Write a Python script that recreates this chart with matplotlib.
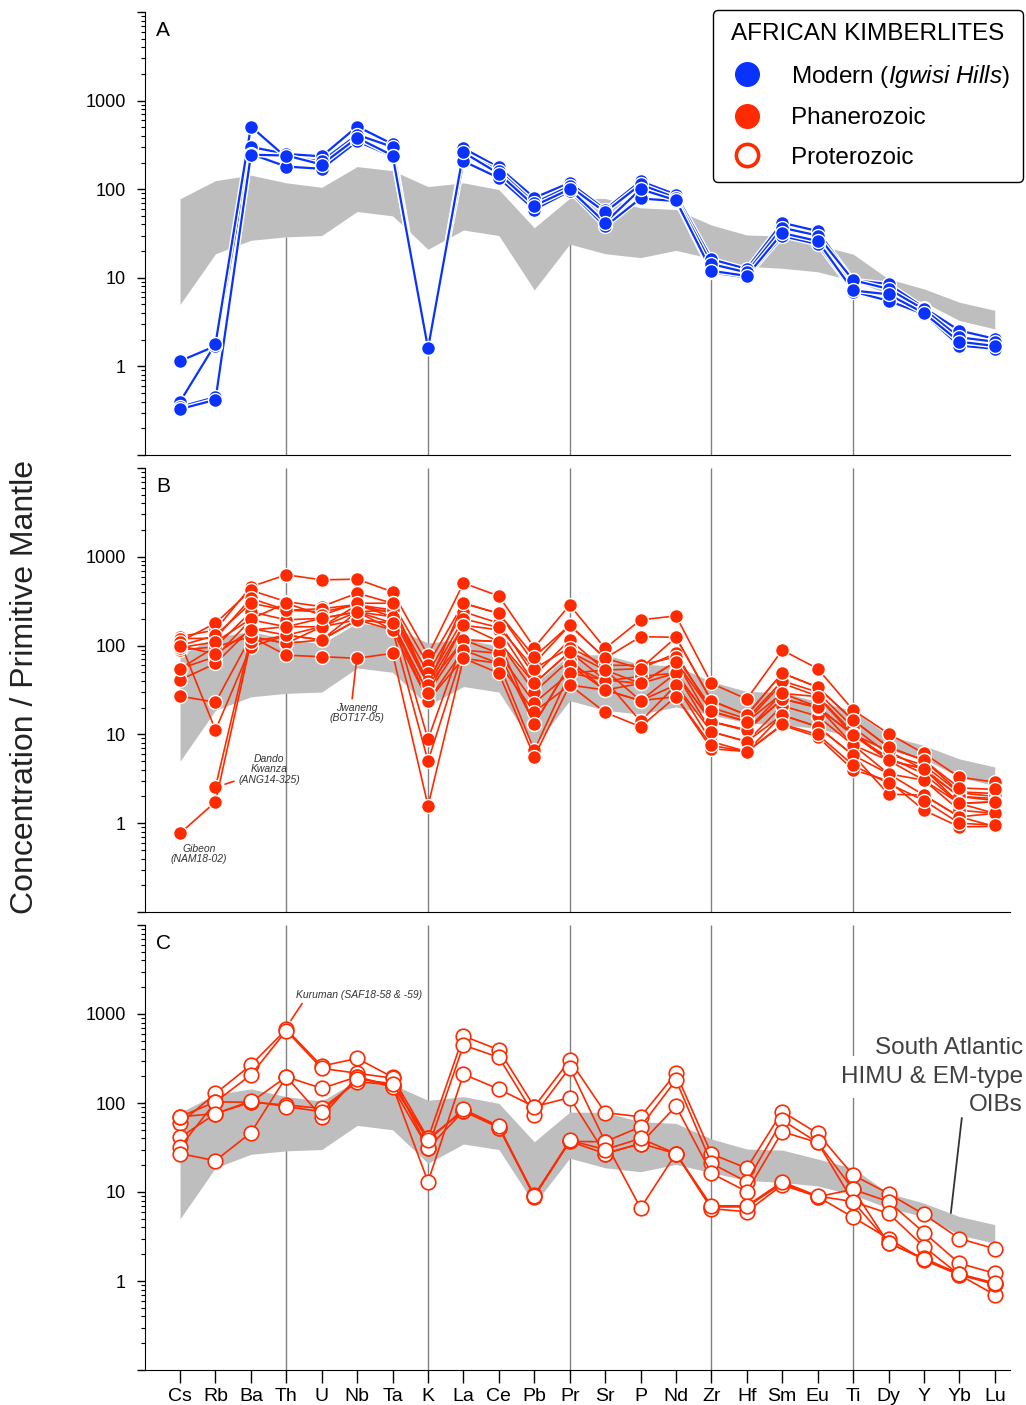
import numpy as np
import matplotlib
matplotlib.use("Agg")
import matplotlib.pyplot as plt
import matplotlib.patheffects as pe
from matplotlib.lines import Line2D
from matplotlib.ticker import FixedLocator, LogLocator, FuncFormatter, NullFormatter

plt.rcParams['font.family'] = ['Liberation Sans', 'DejaVu Sans']
plt.rcParams['mathtext.fontset'] = 'custom'
plt.rcParams['mathtext.rm'] = 'Liberation Sans'
plt.rcParams['mathtext.it'] = 'Liberation Sans:italic'

elements = ['Cs', 'Rb', 'Ba', 'Th', 'U', 'Nb', 'Ta', 'K', 'La', 'Ce', 'Pb', 'Pr',
            'Sr', 'P', 'Nd', 'Zr', 'Hf', 'Sm', 'Eu', 'Ti', 'Dy', 'Y', 'Yb', 'Lu']
guide_elements = ['Th', 'K', 'Pr', 'Zr', 'Ti']

# South Atlantic HIMU & EM-type OIB field
oib_low = [5.0, 18.7, 26.5, 29, 30, 56, 50, 21, 34.6, 30, 7.3, 24,
           18.7, 16.9, 20.4, 16.5, 13.5, 12.8, 11.7, 9.25, 6.6, 5.3, 3.3, 2.65]
oib_high = [78, 125, 144, 118, 105, 180, 162, 107, 118, 99, 36.7, 79,
            78.6, 61.6, 59, 39.4, 30.4, 29.6, 23.5, 18.5, 9.7, 7.5, 5.3, 4.3]

# A: modern (Igwisi Hills)
modern = [
    [1.15, 1.7, 300, 250, 235, 510, 323, 1.6, 290, 176, 80, 118, 59, 123, 87, 16.2, 12.6, 41.8, 33.7, 9.4, 8.5, 4.6, 2.54, 2.05],
    [0.40, 1.8, 510, 228, 207, 412, 300, 1.6, 256, 162, 70, 108, 55, 113, 80, 14.3, 11.5, 36.7, 30, 9.4, 7.5, 4.4, 2.13, 1.9],
    [0.35, 0.45, 250, 180, 170, 347, 235, 1.6, 207, 134, 59, 95, 38, 78.6, 73.5, 11.5, 10.1, 29.6, 24, 7.0, 5.5, 3.9, 1.72, 1.58],
    [0.33, 0.42, 245, 240, 190, 380, 240, 1.6, 260, 150, 65, 100, 42, 100, 75, 12.0, 10.5, 32, 26, 7.2, 6.5, 4.0, 1.9, 1.7],
]

# B: Phanerozoic
phanerozoic = [
    [126, 150, 461, 627, 550, 560, 403, 78, 505, 362, 95, 287, 93, 195, 216, 37.5, 25, 89, 55, 18.8, 10.2, 6.1, 3.3, 2.9],
    [111, 179, 420, 312, 275, 390, 300, 61, 300, 230, 63, 170, 72, 126, 124, 24, 16.5, 49, 34, 14.5, 7.2, 5.1, 2.25, 2.16],
    [120, 121, 340, 251, 240, 287, 252, 49, 240, 179, 46, 116, 53, 55, 82, 18, 14, 37.5, 27, 10.5, 5.1, 4.1, 2.0, 1.9],
    [89, 97, 240, 195, 203, 240, 211, 36, 170, 150, 37.5, 85, 41, 37.5, 66, 14, 11.2, 29, 20.5, 9.8, 5.5, 3.6, 1.67, 1.74],
    [55, 75, 195, 163, 163, 195, 179, 29, 116, 111, 30, 69, 31.6, 24, 49, 10.7, 8.3, 21, 16, 7.6, 3.6, 3.05, 1.4, 1.29],
    [41, 63, 156, 131, 116, 240, 150, 24, 89, 82, 22.6, 49, 41, 14, 36, 8.3, 6.4, 16.5, 12.2, 5.85, 2.12, 2.07, 1.18, 1.29],
    [100, 130, 300, 250, 260, 290, 230, 40, 200, 160, 55, 95, 60, 60, 75, 20, 15, 40, 30, 12, 6, 4.5, 2.2, 2.0],
    [27, 23, 126, 106, 116, 195, 179, 24, 72, 63, 18, 36, 17.7, 12.2, 26.6, 6.9, 6.4, 12.7, 9.4, 4.0, 3.0, 1.4, 0.91, 0.92],
    [110, 11.2, 97, 131, 163, 240, 252, 36, 116, 111, 13, 60, 40, 45, 49, 13.9, 11, 25, 20, 10, 6.5, 4, 2, 1.8],
    [np.nan, 2.56, 126, 106, 163, 287, 211, 8.8, 116, 82, 13.2, 60, 31.6, 37.5, 49, 13.9, 11.2, 25, 20.5, 7.6, 5.1, 3.05, 1.67, 1.29],
    [0.77, 1.74, 110, 131, 116, 195, 150, 5.0, 89, 63, 6.6, 49, 53, 24, 36, 10.7, 8.3, 16.5, 12.2, 5.85, 3.6, 2.07, 1.18, 0.92],
    [55, 97, 126, 78, 75, 72, 82, 1.57, 72, 49, 5.6, 36, 31.6, 24, 26.6, 7.5, 6.4, 13, 10, 4.5, 2.8, 1.8, 1.0, 0.95],
    [95, 110, 200, 300, 220, 300, 300, 36, 300, 230, 75, 170, 72, 55, 124, 24, 16.5, 49, 34, 14.5, 7.2, 5.1, 2.5, 2.4],
    [100, 80, 150, 163, 203, 240, 179, 29, 170, 111, 37.5, 85, 53, 37.5, 66, 18.3, 13.9, 29, 26.6, 9.8, 5.1, 4.1, 1.67, 1.74],
]

# C: Proterozoic
proterozoic = [
    [59, 128, 267, 673, 260, 317, 195, 40, 567, 395, 91, 303, 78, 70, 216, 26.8, 18.5, 80, 45.5, 15.5, 9.6, 5.6, 3.0, 2.3],
    [70, 103, 207, 650, 245, 216, 190, 31, 447, 326, 73, 250, 36.7, 54, 181, 21, 13, 64, 36, 10.7, 7.8, 3.5, 1.58, 1.22],
    [41, 76, 102, 197, 146, 197, 155, 13, 211, 143, 91, 115, 27, 35, 92, 16.2, 10.1, 47.5, 36, 7.8, 5.75, 2.43, 1.17, 0.92],
    [32, 103, 102, 95, 87, 173, 160, 40, 81, 53, 8.85, 37, 36.7, 6.6, 27, 6.8, 6.8, 12.5, 8.85, 5.2, 3.0, 1.72, 1.17, 0.7],
    [27, 22.5, 46.4, 197, 70, 197, 150, 31, 81, 53, 9.2, 37, 27, 35, 27, 6.5, 6.0, 12.0, 8.85, 10.7, 2.65, 1.8, 1.2, 0.92],
    [70, 76, 105, 91, 80, 185, 165, 38, 85, 55, 9.0, 38, 30, 40, 27, 7.0, 7.0, 13, 9.0, 7.8, 2.7, 1.75, 1.2, 0.95],
]

blue = '#0a32ff'
red = '#ff2a00'
band_color = '#bebebe'
guide_color = '#808080'

x = np.arange(len(elements))
guide_x = [elements.index(e) for e in guide_elements]

fig = plt.figure(figsize=(10.26, 14.05), dpi=100)
W, H = 1026.0, 1405.0
panels = [(12, 455), (468, 912), (925, 1370)]
axes = []
for top, bot in panels:
    ax = fig.add_axes([145 / W, 1 - bot / H, 865 / W, (bot - top) / H])
    axes.append(ax)

modern_min = np.nanmin(np.array(modern), axis=0)

for i, ax in enumerate(axes):
    ax.set_yscale('log')
    ax.set_ylim(0.1, 10000)
    ax.set_xlim(-0.99, 23.43)
    ax.fill_between(x, oib_low, oib_high, color=band_color, lw=0, zorder=1)
    for gx in guide_x:
        # in panel A the guides stop under the lowest sample / the OIB field
        top = min(oib_low[gx], modern_min[gx]) if i == 0 else 10000
        ax.vlines(gx, 0.1, top, color=guide_color, lw=1, zorder=0.5)
    ax.spines['top'].set_visible(False)
    ax.spines['right'].set_visible(False)
    ax.yaxis.set_major_locator(FixedLocator([0.1, 1, 10, 100, 1000, 10000]))
    ax.yaxis.set_major_formatter(FuncFormatter(
        lambda v, p: '' if v < 0.5 or v > 5000 else '%d' % v))
    ax.yaxis.set_minor_locator(LogLocator(base=10, subs=np.arange(2, 10)))
    ax.yaxis.set_minor_formatter(NullFormatter())
    ax.tick_params(axis='y', which='major', length=6, width=1, labelsize=13, pad=8)
    ax.tick_params(axis='y', which='minor', length=3, width=0.8)
    if i < 2:
        ax.set_xticks([])
    else:
        ax.set_xticks(x)
        ax.set_xticklabels(elements)
        ax.tick_params(axis='x', length=9, width=1, labelsize=14, pad=4)
    ax.text(0.013, 0.958, 'ABC'[i], transform=ax.transAxes, fontsize=15,
            ha='left', va='center')

# panel A
for s in modern:
    ax = axes[0]
    ax.plot(x, s, '-', color=blue, lw=1.6, zorder=3,
            path_effects=[pe.Stroke(linewidth=3.6, foreground='white'), pe.Normal()])
    ax.plot(x, s, 'o', ms=10, mfc=blue, mec='white', mew=1, zorder=4)

# panel B
for s in phanerozoic:
    axes[1].plot(x, s, '-o', color=red, lw=1.2, ms=10, mfc=red, mec='white',
                 mew=1, zorder=3)

# panel C
for s in proterozoic:
    axes[2].plot(x, s, '-o', color=red, lw=1.2, ms=10.5, mfc='white', mec=red,
                 mew=1.2, zorder=3)

note = dict(fontsize=7.5, style='italic', color='#333333')
axes[1].text(0.54, 0.45, 'Gibeon\n(NAM18-02)', ha='center', va='center',
             linespacing=1.05, **note)
axes[1].annotate('Dando\nKwanza\n(ANG14-325)', xy=(1.27, 2.75), xytext=(2.51, 4.06),
                 ha='center', va='center', linespacing=1.05,
                 arrowprops=dict(arrowstyle='-', color=red, lw=1.2,
                                 relpos=(0.0, 0.15), shrinkA=1, shrinkB=0), **note)
axes[1].annotate('Jwaneng\n(BOT17-05)', xy=(4.97, 62), xytext=(5.0, 17.4),
                 ha='center', va='center', linespacing=1.05,
                 arrowprops=dict(arrowstyle='-', color=red, lw=1.2,
                                 relpos=(0.4, 1.0), shrinkA=1, shrinkB=0), **note)
axes[2].annotate('Kuruman (SAF18-58 & -59)', xy=(3.13, 850), xytext=(3.27, 1650),
                 ha='left', va='center',
                 arrowprops=dict(arrowstyle='-', color=red, lw=1.2,
                                 relpos=(0.07, 0.0), shrinkA=1, shrinkB=0), **note)

oib_text = dict(fontsize=17.5, color='#404040', ha='right', va='center',
                transform=axes[2].transAxes, zorder=5)
axes[2].text(1.015, 0.723, 'South Atlantic', **oib_text)
axes[2].text(1.015, 0.658, 'HIMU & EM-type',
             bbox=dict(facecolor='white', edgecolor='none', pad=7), **oib_text)
axes[2].text(1.015, 0.595, 'OIBs', **oib_text)
axes[2].annotate('', xy=(21.76, 5.8), xytext=(22.07, 68),
                 arrowprops=dict(arrowstyle='-', color='#333333', lw=1.3,
                                 shrinkA=0, shrinkB=0))

fig.text(0.024, 0.511, 'Concentration / Primitive Mantle', rotation=90,
         fontsize=23, ha='center', va='center', color='#222222')

handles = [
    Line2D([], [], ls='none', marker='o', ms=17, mfc=blue, mec=blue),
    Line2D([], [], ls='none', marker='o', ms=17, mfc=red, mec=red),
    Line2D([], [], ls='none', marker='o', ms=16, mfc='white', mec=red, mew=2.6),
]
labels = ['Modern $\\mathit{(Igwisi\\ Hills)}$', 'Phanerozoic', 'Proterozoic']
leg = fig.legend(handles, labels, title='AFRICAN KIMBERLITES', loc='upper right',
                 bbox_to_anchor=(1023 / W, 1 - 10 / H), borderaxespad=0,
                 fontsize=17.5, title_fontsize=17.5, frameon=True, fancybox=True,
                 framealpha=1, edgecolor='black', labelspacing=0.72,
                 handletextpad=1.0, borderpad=0.55, handlelength=1.65)
leg.get_frame().set_linewidth(1.0)

fig.savefig('out.png', dpi=100)
